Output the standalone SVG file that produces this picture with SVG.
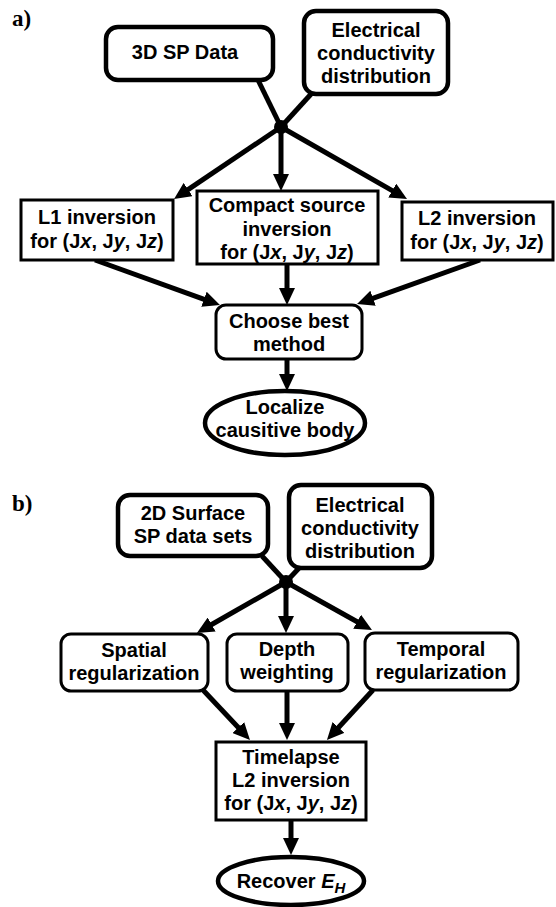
<svg xmlns="http://www.w3.org/2000/svg" width="556" height="907" viewBox="0 0 556 907">
<defs>
<marker id="ah" viewBox="0 0 17 16" refX="1" refY="8" markerWidth="17" markerHeight="16" markerUnits="userSpaceOnUse" orient="auto">
<path d="M0,0 L17,8 L0,16 Z" fill="#000"/>
</marker>
<style>
.t{font-family:"Liberation Sans",Arial,sans-serif;font-weight:bold;font-size:20px;fill:#000;text-anchor:middle}
.lbl{font-family:"Liberation Serif","Times New Roman",serif;font-weight:bold;font-size:23px;fill:#000}
.rb{fill:#fff;stroke:#000;stroke-width:4.5}
.sb{fill:#fff;stroke:#000;stroke-width:3}
.c{fill:none;stroke:#000;stroke-width:5}
.a{fill:none;stroke:#000;stroke-width:5;marker-end:url(#ah)}
</style>
</defs>
<rect width="556" height="907" fill="#fff"/>
<text class="lbl" x="12" y="26">a)</text>
<text class="lbl" x="12" y="511">b)</text>

<g id="connectors">
<line class="c" x1="258" y1="80" x2="281" y2="127"/>
<line class="c" x1="312" y1="93" x2="281" y2="127"/>
<line class="a" x1="281" y1="127" x2="187.3" y2="190.1"/>
<line class="a" x1="281" y1="127" x2="281" y2="175"/>
<line class="a" x1="281" y1="127" x2="393.1" y2="191.1"/>
<line class="a" x1="95" y1="260" x2="204.9" y2="299.6"/>
<line class="a" x1="287" y1="264" x2="287" y2="289"/>
<line class="a" x1="480" y1="260" x2="372.1" y2="298.6"/>
<line class="a" x1="287" y1="359" x2="287" y2="375"/>

<line class="c" x1="262" y1="556" x2="286" y2="582"/>
<line class="c" x1="300" y1="567" x2="286" y2="582"/>
<line class="a" x1="286" y1="582" x2="210.8" y2="625"/>
<line class="a" x1="286" y1="582" x2="286" y2="617"/>
<line class="a" x1="286" y1="582" x2="358" y2="622.2"/>
<line class="a" x1="203" y1="690" x2="239" y2="728.3"/>
<line class="a" x1="287" y1="691" x2="287" y2="724"/>
<line class="a" x1="373" y1="690" x2="337.8" y2="728.2"/>
<line class="a" x1="291" y1="820" x2="291" y2="839"/>
</g>

<g id="junction-a"><circle cx="281" cy="127" r="7" fill="#000"/></g>
<g id="junction-b"><circle cx="286" cy="582" r="7" fill="#000"/></g>

<g id="sp3d">
<rect class="rb" x="106" y="27" width="167" height="53" rx="12"/>
<text class="t" x="185" y="59">3D SP Data</text>
</g>
<g id="cond-a">
<rect class="rb" x="304" y="11" width="144" height="83" rx="12"/>
<text class="t" x="376" y="37">Electrical</text>
<text class="t" x="376" y="60">conductivity</text>
<text class="t" x="376" y="83">distribution</text>
</g>
<g id="l1">
<rect class="sb" x="21" y="200" width="152" height="60"/>
<text class="t" x="97" y="224">L1 inversion</text>
<text class="t" x="97" y="248">for (J<tspan font-style="italic">x</tspan>, J<tspan font-style="italic">y</tspan>, J<tspan font-style="italic">z</tspan>)</text>
</g>
<g id="compact">
<rect class="sb" x="197" y="191" width="181" height="73"/>
<text class="t" x="287" y="212">Compact source</text>
<text class="t" x="287" y="236">inversion</text>
<text class="t" x="287" y="259">for (J<tspan font-style="italic">x</tspan>, J<tspan font-style="italic">y</tspan>, J<tspan font-style="italic">z</tspan>)</text>
</g>
<g id="l2">
<rect class="sb" x="402" y="202" width="151" height="58"/>
<text class="t" x="477" y="225">L2 inversion</text>
<text class="t" x="477" y="249">for (J<tspan font-style="italic">x</tspan>, J<tspan font-style="italic">y</tspan>, J<tspan font-style="italic">z</tspan>)</text>
</g>
<g id="choose">
<rect class="sb" x="216" y="305" width="146" height="54" rx="10"/>
<text class="t" x="289" y="328">Choose best</text>
<text class="t" x="289" y="351">method</text>
</g>
<g id="localize">
<ellipse class="rb" cx="285" cy="423" rx="80" ry="32"/>
<text class="t" x="285" y="414">Localize</text>
<text class="t" x="285" y="437">causitive body</text>
</g>

<g id="sp2d">
<rect class="rb" x="118" y="495" width="150" height="61" rx="12"/>
<text class="t" x="193" y="520">2D Surface</text>
<text class="t" x="193" y="543">SP data sets</text>
</g>
<g id="cond-b">
<rect class="rb" x="289" y="485" width="143" height="83" rx="12"/>
<text class="t" x="360" y="512">Electrical</text>
<text class="t" x="360" y="535">conductivity</text>
<text class="t" x="360" y="558">distribution</text>
</g>
<g id="spatial">
<rect class="sb" x="61" y="634" width="147" height="57" rx="10"/>
<text class="t" x="134" y="657">Spatial</text>
<text class="t" x="134" y="680">regularization</text>
</g>
<g id="depth">
<rect class="sb" x="227" y="634" width="121" height="57" rx="10"/>
<text class="t" x="287" y="656">Depth</text>
<text class="t" x="287" y="679">weighting</text>
</g>
<g id="temporal">
<rect class="sb" x="365" y="633" width="153" height="57" rx="10"/>
<text class="t" x="441" y="656">Temporal</text>
<text class="t" x="441" y="679">regularization</text>
</g>
<g id="timelapse">
<rect class="sb" x="216" y="742" width="150" height="78"/>
<text class="t" x="291" y="764">Timelapse</text>
<text class="t" x="291" y="787">L2 inversion</text>
<text class="t" x="291" y="810">for (J<tspan font-style="italic">x</tspan>, J<tspan font-style="italic">y</tspan>, J<tspan font-style="italic">z</tspan>)</text>
</g>
<g id="recover">
<ellipse class="rb" cx="291" cy="881" rx="73" ry="24"/>
<text class="t" x="291" y="888">Recover <tspan font-style="italic">E</tspan><tspan font-style="italic" font-size="15" dy="5">H</tspan></text>
</g>
</svg>
